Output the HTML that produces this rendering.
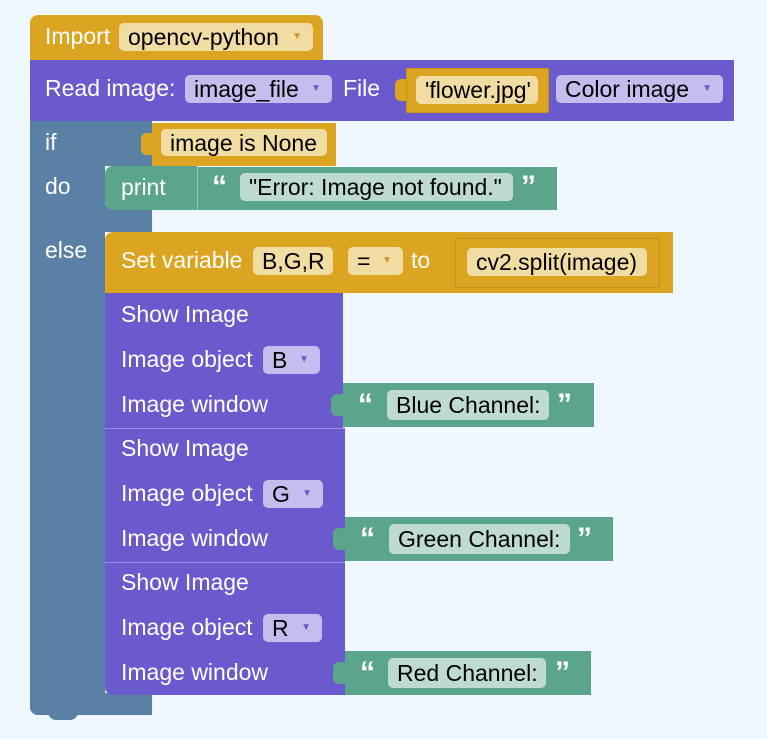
<!DOCTYPE html>
<html><head><meta charset="utf-8"><style>
body{margin:0;width:767px;height:739px;background:#f0f8ff;position:relative;overflow:hidden;font-family:"Liberation Sans",sans-serif;font-size:23px}
div{position:absolute;box-sizing:border-box}
.t{color:#fff;line-height:28px;height:28px;white-space:nowrap}
.f{border-radius:5px;color:#000;line-height:28px;padding-left:9px;white-space:nowrap}
.gold{background:#dba522}
.goldf{background:#f1dca2}
.pur{background:#6a5acd}
.purf{background:#c4bdee}
.blu{background:#5b80a5}
.grn{background:#5ba58c}
.grnf{background:#bddccf}
.ar{position:absolute;font-size:10px;top:0;right:11px}
.q{color:#fff;font-weight:bold;font-size:30px;line-height:30px;height:28px;font-family:"Liberation Sans",sans-serif}
.tab{width:12px;height:22px;border-radius:6px 0 0 6px}
</style></head><body>

<!-- Import -->
<div class="gold" style="left:30px;top:15px;width:293px;height:46px;border-radius:8px 8px 0 0"></div>
<div class="t" style="left:45px;top:22px">Import</div>
<div class="f goldf" style="left:119px;top:23px;width:194px;height:28px">opencv-python<span class="ar" style="color:#c8962a">▼</span></div>

<!-- Read image -->
<div class="pur" style="left:30px;top:60px;width:704px;height:61px"></div>
<div class="t" style="left:45px;top:74px">Read image:</div>
<div class="f purf" style="left:185px;top:75px;width:147px;height:28px">image_file<span class="ar" style="color:#6a5acd">▼</span></div>
<div class="t" style="left:343px;top:74px">File</div>
<div class="gold tab" style="left:395px;top:79px"></div>
<div class="gold" style="left:406px;top:68px;width:143px;height:45px;border:1px solid #c59018"></div>
<div class="f goldf" style="left:416px;top:76px;width:122px;height:28px">'flower.jpg'</div>
<div class="f purf" style="left:556px;top:75px;width:167px;height:28px">Color image<span class="ar" style="color:#6a5acd">▼</span></div>

<!-- if block -->
<div class="blu" style="left:30px;top:121px;width:75px;height:594px;border-radius:0 0 0 8px"></div>
<div class="blu" style="left:30px;top:121px;width:122px;height:45px"></div>
<div class="blu" style="left:30px;top:205px;width:122px;height:27px"></div>
<div class="blu" style="left:30px;top:693px;width:122px;height:22px;border-radius:0 0 0 8px"></div>
<div class="blu" style="left:48px;top:710px;width:30px;height:10px;border-radius:0 0 8px 8px"></div>
<div class="t" style="left:45px;top:128px">if</div>
<div class="t" style="left:45px;top:172px">do</div>
<div class="t" style="left:45px;top:236px">else</div>

<!-- image is None -->
<div class="gold tab" style="left:141px;top:133px"></div>
<div class="gold" style="left:152px;top:123px;width:184px;height:43px"></div>
<div class="f goldf" style="left:161px;top:129px;width:166px;height:27px">image is None</div>

<!-- print -->
<div class="grn" style="left:105px;top:166px;width:92px;height:44px;border-radius:8px 0 0 8px"></div>
<div class="t" style="left:121px;top:173px">print</div>
<div class="grn" style="left:197px;top:167px;width:360px;height:43px;border-left:1px solid #8ec6b2"></div>
<div class="q" style="left:212px;top:172px">“</div>
<div class="f grnf" style="left:240px;top:173px;width:273px;height:28px">"Error: Image not found."</div>
<div class="q" style="left:521px;top:172px">”</div>

<!-- Set variable -->
<div class="gold" style="left:105px;top:232px;width:568px;height:61px;border-radius:8px 0 0 0"></div>
<div class="t" style="left:121px;top:246px">Set variable</div>
<div class="f goldf" style="left:253px;top:247px;width:80px;height:28px">B,G,R</div>
<div class="f goldf" style="left:348px;top:247px;width:55px;height:28px">=<span class="ar" style="color:#c8962a">▼</span></div>
<div class="t" style="left:411px;top:246px">to</div>
<div class="gold" style="left:455px;top:238px;width:205px;height:50px;border:1px solid #c59018"></div>
<div class="f goldf" style="left:467px;top:248px;width:180px;height:28px">cv2.split(image)</div>

<!-- Show Image 1 -->
<div class="pur" style="left:105px;top:293px;width:238px;height:135px"></div>
<div class="t" style="left:121px;top:300px">Show Image</div>
<div class="t" style="left:121px;top:345px">Image object</div>
<div class="f purf" style="left:263px;top:346px;width:57px;height:28px">B<span class="ar" style="color:#6a5acd">▼</span></div>
<div class="t" style="left:121px;top:390px">Image window</div>
<div class="grn tab" style="left:331px;top:394px"></div>
<div class="grn" style="left:343px;top:383px;width:251px;height:44px"></div>
<div class="q" style="left:358px;top:390px">“</div>
<div class="f grnf" style="left:387px;top:390px;width:162px;height:30px;line-height:30px">Blue Channel:</div>
<div class="q" style="left:557px;top:390px">”</div>

<!-- Show Image 2 -->
<div class="pur" style="left:105px;top:428px;width:240px;height:134px;border-top:1px solid #9a8fe0"></div>
<div class="t" style="left:121px;top:434px">Show Image</div>
<div class="t" style="left:121px;top:479px">Image object</div>
<div class="f purf" style="left:263px;top:480px;width:60px;height:28px">G<span class="ar" style="color:#6a5acd">▼</span></div>
<div class="t" style="left:121px;top:524px">Image window</div>
<div class="grn tab" style="left:333px;top:528px"></div>
<div class="grn" style="left:345px;top:517px;width:268px;height:44px"></div>
<div class="q" style="left:360px;top:524px">“</div>
<div class="f grnf" style="left:389px;top:524px;width:181px;height:30px;line-height:30px">Green Channel:</div>
<div class="q" style="left:577px;top:524px">”</div>

<!-- Show Image 3 -->
<div class="pur" style="left:105px;top:562px;width:240px;height:133px;border-top:1px solid #9a8fe0;border-radius:0 0 0 8px"></div>
<div class="t" style="left:121px;top:568px">Show Image</div>
<div class="t" style="left:121px;top:613px">Image object</div>
<div class="f purf" style="left:263px;top:614px;width:59px;height:28px">R<span class="ar" style="color:#6a5acd">▼</span></div>
<div class="t" style="left:121px;top:658px">Image window</div>
<div class="grn tab" style="left:333px;top:662px"></div>
<div class="grn" style="left:345px;top:651px;width:246px;height:44px"></div>
<div class="q" style="left:360px;top:658px">“</div>
<div class="f grnf" style="left:388px;top:658px;width:158px;height:30px;line-height:30px">Red Channel:</div>
<div class="q" style="left:555px;top:658px">”</div>

</body></html>
